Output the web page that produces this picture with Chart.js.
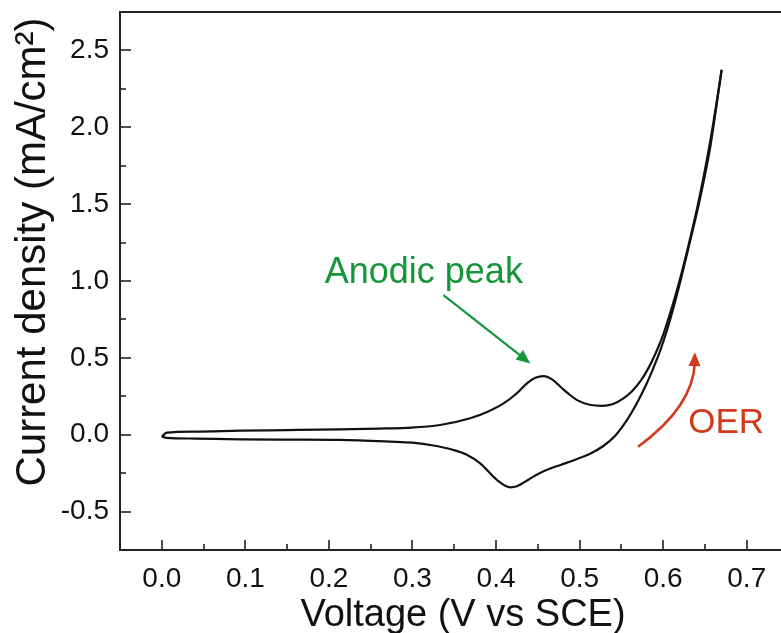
<!DOCTYPE html>
<html>
<head>
<meta charset="utf-8">
<script src="https://cdn.jsdelivr.net/npm/chart.js@4/dist/chart.umd.min.js"></script>
<style>
    body { margin: 0; background: #fff; }
    #wrap { width: 781px; height: 633px; }
</style>
</head>
<body>
<div id="wrap"><canvas id="cvChart" width="781" height="633"></canvas></div>
<script>
// forward (anodic) sweep, 0 -> 0.67 V
const FWD_V = [0.000, 0.006, 0.040, 0.094, 0.150, 0.213, 0.260, 0.293, 0.333, 0.369, 0.390, 0.409, 0.425, 0.437, 0.447, 0.457, 0.467, 0.477, 0.487, 0.497, 0.512, 0.527, 0.540, 0.552, 0.563, 0.573, 0.582, 0.591, 0.600, 0.610, 0.620, 0.632, 0.644, 0.657, 0.670];
const FWD_J = [-0.013, 0.013, 0.020, 0.026, 0.030, 0.035, 0.040, 0.045, 0.063, 0.107, 0.150, 0.204, 0.270, 0.334, 0.370, 0.381, 0.360, 0.312, 0.265, 0.225, 0.195, 0.188, 0.200, 0.235, 0.285, 0.350, 0.430, 0.530, 0.650, 0.820, 1.010, 1.270, 1.560, 1.930, 2.374];

// reverse (cathodic) sweep, 0.67 -> 0 V
const REV_V = [0.670, 0.656, 0.641, 0.634, 0.622, 0.612, 0.604, 0.596, 0.588, 0.580, 0.568, 0.556, 0.542, 0.528, 0.512, 0.497, 0.478, 0.461, 0.447, 0.435, 0.425, 0.417, 0.401, 0.381, 0.365, 0.349, 0.325, 0.300, 0.273, 0.213, 0.150, 0.094, 0.040, 0.006, 0.000];
const REV_J = [2.374, 1.860, 1.460, 1.300, 1.030, 0.820, 0.670, 0.540, 0.430, 0.330, 0.200, 0.090, -0.010, -0.075, -0.125, -0.158, -0.195, -0.228, -0.265, -0.305, -0.335, -0.342, -0.294, -0.186, -0.130, -0.099, -0.070, -0.052, -0.045, -0.034, -0.032, -0.030, -0.025, -0.020, -0.013];

const X_TICKS = [0.0, 0.1, 0.2, 0.3, 0.4, 0.5, 0.6, 0.7];
const X_MINOR = [-0.05, 0.05, 0.15, 0.25, 0.35, 0.45, 0.55, 0.65];
const Y_TICKS = [-0.5, 0.0, 0.5, 1.0, 1.5, 2.0, 2.5];
const Y_MINOR = [-0.75, -0.25, 0.25, 0.75, 1.25, 1.75, 2.25, 2.75];

const FONT = "'Liberation Sans', Arial, Helvetica, sans-serif";
const AXIS_COLOR = '#222';
const GREEN = '#16953b';
const RED = '#d13b1b';

function toPoints(xs, ys) {
    return xs.map((x, i) => ({ x: x, y: ys[i] }));
}

function arrowHead(ctx, x, y, angle, len, half, color) {
    ctx.save();
    ctx.translate(x, y);
    ctx.rotate(angle);
    ctx.fillStyle = color;
    ctx.beginPath();
    ctx.moveTo(0, 0);
    ctx.lineTo(-len, -half);
    ctx.lineTo(-len, half);
    ctx.closePath();
    ctx.fill();
    ctx.restore();
}

const decorPlugin = {
    id: 'decor',
    afterDraw(chart) {
        const ctx = chart.ctx;
        const area = chart.chartArea;
        const xs = chart.scales.x;
        const ys = chart.scales.y;
        ctx.save();

        // top frame line
        ctx.strokeStyle = AXIS_COLOR;
        ctx.lineWidth = 2;
        ctx.beginPath();
        ctx.moveTo(area.left - 1, area.top);
        ctx.lineTo(area.right, area.top);
        ctx.stroke();

        // inward ticks
        ctx.lineWidth = 1.6;
        const xTick = (v, len) => {
            const p = Math.round(xs.getPixelForValue(v));
            ctx.beginPath();
            ctx.moveTo(p, area.bottom);
            ctx.lineTo(p, area.bottom - len);
            ctx.stroke();
        };
        const yTick = (v, len) => {
            const p = Math.round(ys.getPixelForValue(v));
            ctx.beginPath();
            ctx.moveTo(area.left, p);
            ctx.lineTo(area.left + len, p);
            ctx.stroke();
        };
        X_TICKS.forEach(v => xTick(v, 10));
        X_MINOR.forEach(v => xTick(v, 6));
        Y_TICKS.forEach(v => yTick(v, 11));
        Y_MINOR.forEach(v => yTick(v, 6));

        // axis titles
        ctx.fillStyle = '#111';
        ctx.font = '38px ' + FONT;
        ctx.textAlign = 'center';
        ctx.textBaseline = 'alphabetic';
        ctx.fillText('Voltage (V vs SCE)', 463, 626);

        ctx.save();
        ctx.font = '42px ' + FONT;
        ctx.translate(45, 252);
        ctx.rotate(-Math.PI / 2);
        ctx.fillText('Current density (mA/cm\u00B2)', 0, 0);
        ctx.restore();

        // "Anodic peak" label and arrow
        ctx.fillStyle = GREEN;
        ctx.font = '36px ' + FONT;
        ctx.textAlign = 'left';
        ctx.fillText('Anodic peak', xs.getPixelForValue(0.195), ys.getPixelForValue(0.986));

        const ax0 = xs.getPixelForValue(0.337), ay0 = ys.getPixelForValue(0.908);
        const ax1 = xs.getPixelForValue(0.441), ay1 = ys.getPixelForValue(0.464);
        const ang = Math.atan2(ay1 - ay0, ax1 - ax0);
        ctx.strokeStyle = GREEN;
        ctx.lineWidth = 2.2;
        ctx.beginPath();
        ctx.moveTo(ax0, ay0);
        ctx.lineTo(ax1 - 10 * Math.cos(ang), ay1 - 10 * Math.sin(ang));
        ctx.stroke();
        arrowHead(ctx, ax1, ay1, ang, 14, 6, GREEN);

        // "OER" label and curved arrow
        ctx.fillStyle = RED;
        ctx.font = '35px ' + FONT;
        ctx.fillText('OER', xs.getPixelForValue(0.630), ys.getPixelForValue(0.009));

        const p0 = { x: xs.getPixelForValue(0.570), y: ys.getPixelForValue(-0.078) };
        const c = { x: xs.getPixelForValue(0.636), y: ys.getPixelForValue(0.183) };
        const p2 = { x: xs.getPixelForValue(0.638), y: ys.getPixelForValue(0.537) };
        ctx.strokeStyle = RED;
        ctx.lineWidth = 2.6;
        ctx.beginPath();
        ctx.moveTo(p0.x, p0.y);
        ctx.quadraticCurveTo(c.x, c.y, p2.x, p2.y + 10);
        ctx.stroke();
        const oang = Math.atan2(p2.y - c.y, p2.x - c.x);
        arrowHead(ctx, p2.x, p2.y, oang, 14, 6, RED);

        ctx.restore();
    }
};

const cvChart = new Chart(document.getElementById('cvChart').getContext('2d'), {
    type: 'scatter',
    data: {
        datasets: [
            {
                label: 'Forward',
                data: toPoints(FWD_V, FWD_J),
                showLine: true,
                borderColor: '#111',
                borderWidth: 2.2,
                pointRadius: 0,
                cubicInterpolationMode: 'monotone'
            },
            {
                label: 'Reverse',
                data: toPoints(REV_V, REV_J),
                showLine: true,
                borderColor: '#111',
                borderWidth: 2.2,
                pointRadius: 0,
                cubicInterpolationMode: 'monotone'
            }
        ]
    },
    options: {
        responsive: false,
        animation: false,
        layout: { padding: { top: 12, right: 0, left: 0, bottom: 0 } },
        plugins: {
            legend: { display: false },
            tooltip: { enabled: false }
        },
        scales: {
            x: {
                type: 'linear',
                min: -0.05,
                max: 0.741,
                afterBuildTicks: axis => { axis.ticks = X_TICKS.map(v => ({ value: v })); },
                afterFit: axis => { axis.height = 83; axis.paddingLeft = 0; axis.paddingRight = 0; },
                grid: { display: false, drawTicks: false },
                border: { display: true, color: AXIS_COLOR, width: 2 },
                ticks: {
                    padding: 12,
                    color: '#111',
                    font: { family: FONT, size: 28 },
                    maxRotation: 0,
                    callback: v => v.toFixed(1)
                }
            },
            y: {
                type: 'linear',
                min: -0.75,
                max: 2.75,
                afterBuildTicks: axis => { axis.ticks = Y_TICKS.map(v => ({ value: v })); },
                afterFit: axis => { axis.width = 120; axis.paddingTop = 0; axis.paddingBottom = 0; },
                grid: { display: false, drawTicks: false },
                border: { display: true, color: AXIS_COLOR, width: 2 },
                ticks: {
                    padding: 11,
                    color: '#111',
                    font: { family: FONT, size: 28 },
                    callback: v => v.toFixed(1)
                }
            }
        }
    },
    plugins: [decorPlugin]
});
</script>
</body>
</html>
